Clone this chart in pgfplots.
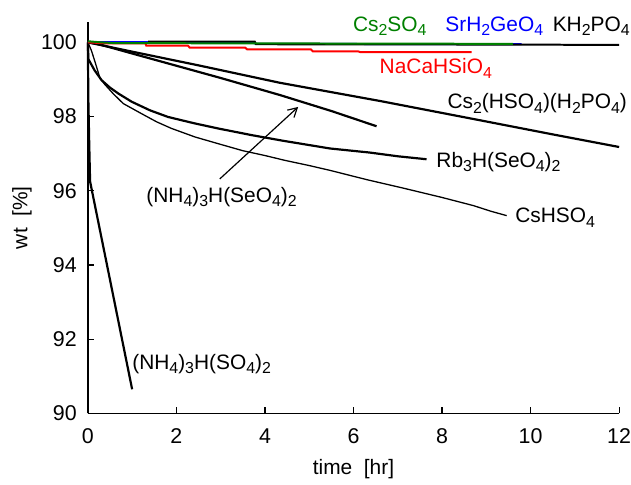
\documentclass[border=0pt]{standalone}
\usepackage{fontspec}
\setmainfont{Liberation Sans}
\usepackage{pgfplots}
\pgfplotsset{compat=1.18}
\usetikzlibrary{arrows.meta}
\definecolor{cgreen}{RGB}{0,128,0}
\newcommand\sub[1]{\raisebox{-0.42ex}{\fontsize{16}{16}\selectfont #1}}
\begin{document}
\fontsize{21}{24}\selectfont
\begin{tikzpicture}[lbl/.style={inner sep=0pt}]
\begin{axis}[name=ax,
  scale only axis, width=532bp, height=392bp,
  xmin=0, xmax=12, ymin=90, ymax=100.55,
  axis lines=left, axis line style={-, line width=1.6pt},
  tick align=inside, major tick length=6bp,
  tick style={line width=1.2pt, black},
  xtick={0,2,...,12}, ytick={90,92,...,100},
  /pgf/number format/assume math mode=true,
  ticklabel style={font=\fontsize{21.5}{24}\selectfont, inner sep=0pt},
  yticklabel style={xshift=-11bp},
  xticklabel style={yshift=-15bp},
  label style={font=\fontsize{21}{24}\selectfont, inner sep=0pt},
  xlabel={time\ \ [hr]}, ylabel={wt\ \ [\%]},
  xlabel style={at={(axis description cs:0.5,-0.142)}, anchor=center},
  ylabel style={at={(axis description cs:-0.124,0.5)}, anchor=center},
  clip=false,
]
% Cs2(HSO4)(H2PO4)
\addplot[black, line width=2.2pt] coordinates {(0,100) (1,99.75) (2.5,99.38) (4.34,98.91) (6.6,98.42) (8.86,97.9) (10.5,97.52) (12,97.18)};
% (NH4)3H(SeO4)2
\addplot[black, line width=2.2pt] coordinates {(0,100) (0.25,99.95) (1,99.7) (2,99.37) (3,99.04) (4.34,98.58) (5.5,98.15) (6.52,97.74)};
% Rb3H(SeO4)2
\addplot[black, line width=2.2pt] coordinates {(0,100) (0.01,99.55) (0.15,99.25) (0.31,98.98) (0.5,98.78) (0.69,98.62) (0.99,98.4) (1.4,98.17) (1.81,97.99) (2.4,97.82) (2.94,97.68) (3.7,97.5) (4.4,97.35) (5.47,97.14) (6.37,97.03) (7.0,96.93) (7.65,96.85)};
% CsHSO4
\addplot[black, line width=1.3pt] coordinates {(0,100) (0.08,99.78) (0.16,99.48) (0.27,99.05) (0.38,98.87) (0.57,98.62) (0.8,98.35) (1.21,98.08) (1.55,97.86) (1.89,97.68) (2.42,97.45) (3.0,97.25) (3.5,97.08) (4.0,96.95) (4.45,96.82) (5.0,96.68) (5.47,96.55) (6.3,96.3) (7.13,96.07) (8.0,95.82) (8.71,95.6) (9.1,95.45) (9.46,95.33)};
% (NH4)3H(SO4)2
\addplot[black, line width=2.2pt] coordinates {(0,100) (0.01,98.5) (0.03,97.3) (0.05,96.25) (0.5,93.6) (1.0,90.65)};
% SrH2GeO4
\addplot[blue, line width=2pt] coordinates {(0,100.01) (3.7,100.0) (3.8,99.96) (9.8,99.95)};
% KH2PO4
\addplot[black, line width=2pt] coordinates {(1.36,100.02) (3.77,100.02) (3.8,99.95) (9.8,99.94) (12,99.93)};
% NaCaHSiO4
\addplot[red, line width=2pt] coordinates {(0,100) (0.5,99.97) (1.3,99.97) (1.32,99.91) (2.26,99.91) (2.3,99.86) (3.55,99.86) (3.6,99.81) (5.04,99.81) (5.08,99.76) (6.1,99.76) (6.15,99.74) (8.67,99.74)};
% Cs2SO4
\addplot[cgreen, line width=2pt] coordinates {(0,100.03) (0.3,100.0) (0.6,99.98) (9.6,99.96)};

\node[lbl, text=cgreen, anchor=base] at (axis cs:6.82,100.30) {Cs\sub{2}SO\sub{4}};
\node[lbl, text=blue, anchor=base] at (axis cs:9.18,100.30) {SrH\sub{2}GeO\sub{4}};
\node[lbl, anchor=base] at (axis cs:11.37,100.30) {KH\sub{2}PO\sub{4}};
\node[lbl, text=red, anchor=base] at (axis cs:7.86,99.16) {NaCaHSiO\sub{4}};
\node[lbl, anchor=base] at (axis cs:10.15,98.22) {Cs\sub{2}(HSO\sub{4})(H\sub{2}PO\sub{4})};
\node[lbl, anchor=base west] at (axis cs:7.87,96.64) {Rb\sub{3}H(SeO\sub{4})\sub{2}};
\node[lbl, anchor=base west] at (axis cs:9.65,95.14) {CsHSO\sub{4}};
\node[lbl, anchor=base] at (axis cs:3.02,95.69) {(NH\sub{4})\sub{3}H(SeO\sub{4})\sub{2}};
\node[lbl, anchor=base] at (axis cs:2.57,91.19) {(NH\sub{4})\sub{3}H(SO\sub{4})\sub{2}};
\draw[line width=1.2pt, -{Straight Barb[length=9bp,width=10bp]}] (axis cs:2.98,96.32) -- (axis cs:4.75,98.26);
\end{axis}
\path ([xshift=-88bp,yshift=-71bp]ax.south west) rectangle ([xshift=11bp,yshift=22bp]ax.north east);
\end{tikzpicture}
\end{document}
